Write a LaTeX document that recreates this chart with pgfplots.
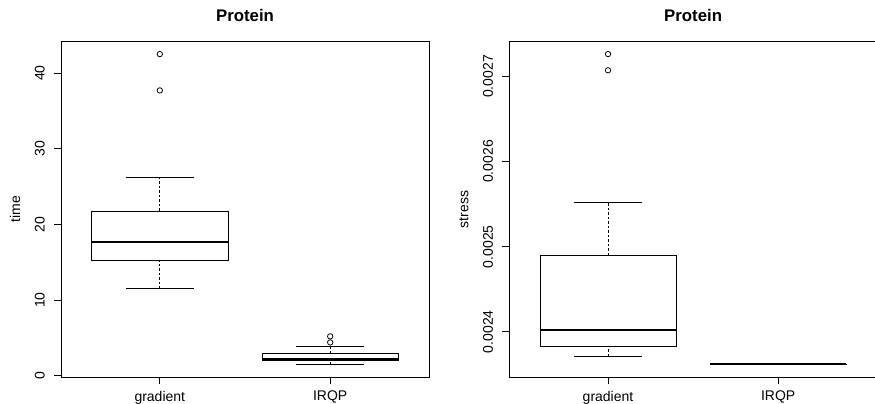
\documentclass[border=0pt]{standalone}
\usepackage{pgfplots}
\pgfplotsset{compat=1.18}
\usepackage{fontspec}
\setmainfont{Liberation Sans}
\begin{document}
\begin{tikzpicture}
\path[use as bounding box] (0,0) rectangle (875pt,404pt);
\pgfplotsset{
  rbox/.style={
    scale only axis,
    width=368pt, height=335.3pt,
    xmin=0.42, xmax=2.58,
    xtick={1,2}, xticklabels={gradient,IRQP},
    tick align=outside,
    major tick length=7pt,
    xtick pos=left, ytick pos=left,
    axis line style={line width=0.8pt},
    tick style={black, line width=0.8pt},
    tick label style={font=\fontsize{14}{16}\selectfont},
    /pgf/number format/assume math mode=true,
    xticklabel style={anchor=north, inner sep=0pt},
    xticklabel shift=7pt,
    yticklabel style={rotate=90, anchor=south, inner sep=0pt},
    yticklabel shift=9pt,
    title style={font=\fontsize{16.8}{20}\selectfont\bfseries, at={(axis description cs:0.5,1.0418)}, anchor=base, yshift=0pt, inner sep=0pt},
    every axis y label/.style={at={(axis description cs:-0.1114,0.5)}, rotate=90, anchor=base, inner sep=0pt, font=\fontsize{14}{16}\selectfont},
    title=Protein,
  },
  bx/.style={draw=black, fill=white, line width=0.8pt, no marks},
  med/.style={black, line width=2.4pt, no marks},
  wdash/.style={black, line width=0.8pt, dash pattern=on 2.5pt off 2pt, no marks},
  stp/.style={black, line width=0.8pt, no marks},
  outl/.style={black, only marks, mark=o, mark size=2.7pt, mark options={line width=0.8pt, solid}},
}
% Left panel: time
\begin{axis}[rbox, at={(61pt,27pt)},
  ymin=-0.17, ymax=44.14,
  ytick={0,10,20,30,40},
  ylabel={time}]
% gradient: lw 11.5, q1 15.29, med 17.67, q3 21.77, uw 26.26
\addplot[wdash] coordinates {(1,21.77) (1,26.26)};
\addplot[wdash] coordinates {(1,11.5) (1,15.29)};
\addplot[stp] coordinates {(0.8,26.26) (1.2,26.26)};
\addplot[stp] coordinates {(0.8,11.5) (1.2,11.5)};
\addplot[bx] coordinates {(0.6,15.29) (1.4,15.29) (1.4,21.77) (0.6,21.77)} -- cycle;
\addplot[med] coordinates {(0.6,17.67) (1.4,17.67)};
\addplot[outl] coordinates {(1,42.5) (1,37.7)};
% IRQP: lw 1.5, q1 1.98, med 2.12, q3 2.96, uw 3.83
\addplot[wdash] coordinates {(2,2.96) (2,3.83)};
\addplot[wdash] coordinates {(2,1.5) (2,1.98)};
\addplot[stp] coordinates {(1.8,3.83) (2.2,3.83)};
\addplot[stp] coordinates {(1.8,1.5) (2.2,1.5)};
\addplot[bx] coordinates {(1.6,1.98) (2.4,1.98) (2.4,2.96) (1.6,2.96)} -- cycle;
\addplot[med] coordinates {(1.6,2.12) (2.4,2.12)};
\addplot[outl] coordinates {(2,5.2) (2,4.4)};
\end{axis}
% Right panel: stress
\begin{axis}[rbox, at={(509.3pt,27pt)}, width=367.6pt,
  ymin=0.0023468, ymax=0.0027408,
  ytick={0.0024,0.0025,0.0026,0.0027},
  yticklabels={0.0024,0.0025,0.0026,0.0027},
  scaled y ticks=false,
  ylabel={stress}]
% gradient: lw 0.002371, q1 0.002383, med 0.002402, q3 0.00249, uw 0.002552
\addplot[wdash] coordinates {(1,0.00249) (1,0.002552)};
\addplot[wdash] coordinates {(1,0.002371) (1,0.002383)};
\addplot[stp] coordinates {(0.8,0.002552) (1.2,0.002552)};
\addplot[stp] coordinates {(0.8,0.002371) (1.2,0.002371)};
\addplot[bx] coordinates {(0.6,0.002383) (1.4,0.002383) (1.4,0.00249) (0.6,0.00249)} -- cycle;
\addplot[med] coordinates {(0.6,0.002402) (1.4,0.002402)};
\addplot[outl] coordinates {(1,0.0027263) (1,0.0027072)};
% IRQP: lw 0.0023618, q1 0.0023619, med 0.002362, q3 0.0023621, uw 0.0023623
\addplot[stp] coordinates {(1.8,0.0023623) (2.2,0.0023623)};
\addplot[stp] coordinates {(1.8,0.0023618) (2.2,0.0023618)};
\addplot[bx] coordinates {(1.6,0.0023619) (2.4,0.0023619) (2.4,0.0023621) (1.6,0.0023621)} -- cycle;
\addplot[med] coordinates {(1.6,0.002362) (2.4,0.002362)};
\end{axis}
\end{tikzpicture}
\end{document}
